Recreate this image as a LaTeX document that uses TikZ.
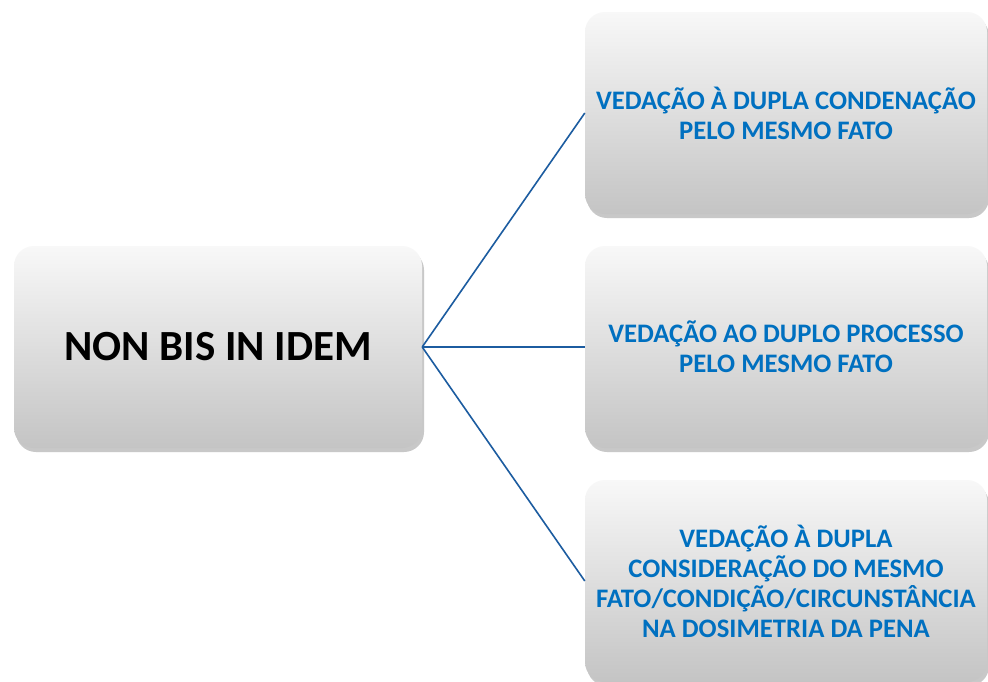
\documentclass[tikz,border=0pt]{standalone}
\usepackage{fontspec}
\setmainfont{Carlito}
\usetikzlibrary{shadows}
\definecolor{boxtop}{RGB}{248,248,248}
\definecolor{boxbot}{RGB}{196,196,196}
\definecolor{txtblue}{RGB}{0,112,192}
\definecolor{linkblue}{RGB}{28,92,160}
\begin{document}
\begin{tikzpicture}[x=1pt,y=-1pt,
  box/.style={rectangle, rounded corners=20pt, inner sep=0pt,
    top color=boxtop, bottom color=boxbot, draw=none,
    drop shadow={shadow xshift=2pt, shadow yshift=-4pt, opacity=0.3, fill=black!70},
    align=center},
  rootbox/.style={box, minimum width=408pt, minimum height=202pt,
    font=\fontsize{43}{50}\selectfont\bfseries, text=black},
  leafbox/.style={box, minimum width=402pt, minimum height=202pt,
    font=\fontsize{26.7}{30}\selectfont\bfseries, text=txtblue},
  link/.style={draw=linkblue, line width=1.6pt}
]
\useasboundingbox (0,0) rectangle (988,681);
\clip (0,0) rectangle (988,681);
\fill[white] (0,0) rectangle (988,681);
\node[rootbox] (root) at (218,347) {NON BIS IN IDEM};
\node[leafbox] (a) at (786,113) {VEDAÇÃO À DUPLA CONDENAÇÃO\\PELO MESMO FATO};
\node[leafbox] (b) at (786,347) {VEDAÇÃO AO DUPLO PROCESSO\\PELO MESMO FATO};
\node[leafbox] (c) at (786,581) {VEDAÇÃO À DUPLA\\CONSIDERAÇÃO DO MESMO\\FATO/CONDIÇÃO/CIRCUNSTÂNCIA\\NA DOSIMETRIA DA PENA};
\draw[link] (root.east) -- (a.west);
\draw[link] (root.east) -- (b.west);
\draw[link] (root.east) -- (c.west);
\end{tikzpicture}
\end{document}
